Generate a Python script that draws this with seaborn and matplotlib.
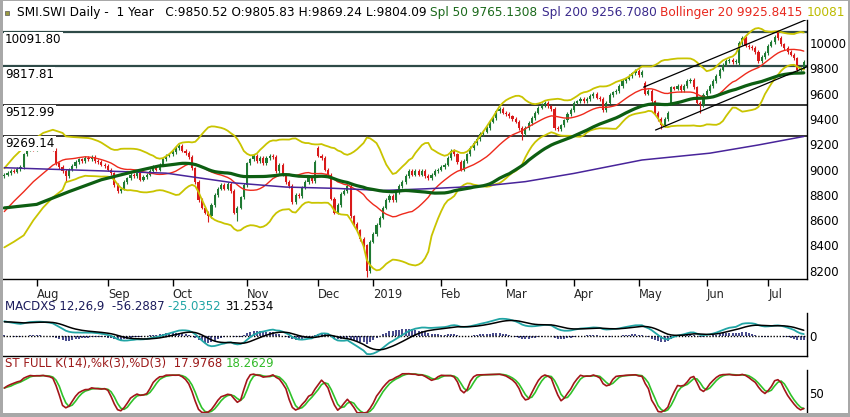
import numpy as np
import pandas as pd
import matplotlib
matplotlib.use("Agg")
import matplotlib.pyplot as plt
from matplotlib.patches import Rectangle
import seaborn as sns

sns.set_theme(style="white")
plt.rcParams['font.family'] = ['DejaVu Sans']

# ---------------- data ----------------
holidays = ["2018-08-01", "2018-12-24", "2018-12-25", "2018-12-26", "2018-12-31",
            "2019-01-01", "2019-01-02", "2019-04-19", "2019-04-22", "2019-05-01",
            "2019-05-30", "2019-06-10"]

close_2018_07 = [8960, 8975, 8990, 8985, 9005, 9020, 9120, 9160, 9175, 9165]
close_2018_08 = [9180, 9190, 9185, 9175, 9180, 9160, 9050, 9020, 8990, 8950, 9000,
                 9030, 9060, 9080, 9070, 9090, 9080, 9100, 9070, 9060, 9040, 9030]
close_2018_09 = [9000, 8970, 8880, 8830, 8850, 8900, 8930, 8960, 8950, 8970,
                 8920, 8940, 8960, 8990, 9020, 9000, 9040, 9080, 9110, 9120]
close_2018_10 = [9140, 9170, 9190, 9150, 9130, 9100, 9010, 8900, 8760, 8700, 8660,
                 8630, 8720, 8800, 8850, 8880, 8850, 8890, 8830, 8660, 8700, 8780, 8880]
close_2018_11 = [9050, 9080, 9110, 9070, 9090, 9050, 9090, 9110, 9100, 8990, 9040,
                 8960, 8900, 8870, 8740, 8800, 8790, 8860, 8900, 8930, 8910, 9060]
close_2018_12 = [9110, 9090, 9000, 8960, 8770, 8660, 8720, 8810, 8830, 8870,
                 8630, 8570, 8520, 8450, 8400, 8200, 8430]
close_2019_01 = [8490, 8560, 8620, 8700, 8760, 8790, 8760, 8820, 8870, 8900, 8950,
                 8990, 8960, 8990, 8960, 8990, 8950, 8930, 8960, 8990, 9000]
close_2019_02 = [9020, 9040, 9090, 9150, 9120, 9060, 9000, 9070, 9120, 9170,
                 9210, 9240, 9280, 9300, 9330, 9380, 9410, 9460, 9480, 9450]
close_2019_03 = [9440, 9420, 9400, 9380, 9330, 9280, 9330, 9370, 9410, 9450, 9490,
                 9510, 9530, 9500, 9480, 9330, 9320, 9350, 9390, 9440, 9470]
close_2019_04 = [9530, 9540, 9560, 9540, 9560, 9580, 9600, 9570, 9560, 9470,
                 9530, 9590, 9610, 9620, 9660, 9700, 9720, 9740, 9760, 9780]
close_2019_05 = [9750, 9770, 9600, 9620, 9540, 9450, 9400, 9350, 9400, 9450, 9650,
                 9640, 9660, 9630, 9660, 9700, 9710, 9650, 9530, 9510, 9590]
close_2019_06 = [9620, 9660, 9700, 9740, 9790, 9830, 9860, 9870, 9850, 9860,
                 10000, 10040, 9980, 9970, 9960, 9930, 9860, 9890, 9920]
close_2019_07 = [9980, 10010, 10050, 10040, 9990, 9960, 9930, 9910, 9880, 9790,
                 9800, 9850.52]

# opens that gap away from the previous close
open_gaps = {97: 9170, 198: 9685, 206: 9525, 227: 9845, 239: 10090, 247: 9805.83}
# long lower shadows
low_spikes = {19: 8900, 63: 8585, 72: 8590, 112: 8150, 160: 9235, 203: 9325, 215: 9445, 245: 9770}

# moving averages read where the chart's history is not in view
sma200_idx = [0, 30, 50, 71, 87, 102, 117, 130, 140, 151, 161, 176, 197, 218, 233, 247]
sma200_val = [9015, 8990, 8972, 8895, 8862, 8852, 8835, 8848, 8860, 8878, 8905, 8970,
              9076, 9130, 9195, 9262]
sma50_early_idx = [0, 10, 20, 30, 40, 48]
sma50_early_val = [8697, 8725, 8826, 8920, 8984, 9030]
bb_early_idx = [0, 3, 6, 9, 12, 15, 18]
bb_mid_early = [8668, 8750, 8825, 8905, 8970, 9035, 9075]
bb_up_early = [9010, 9100, 9175, 9235, 9290, 9315, 9290]
bb_lo_early = [8385, 8430, 8480, 8600, 8700, 8780, 8840]

# MACD state at the left edge
macd_start, signal_start = 125, 112

# trend channel (index, price)
chan_up_idx, chan_up_val = [197.5, 248.6], [9652, 10195]
chan_lo_idx, chan_lo_val = [201.2, 248.6], [9313, 9820]

levels = [10091.80, 9817.81, 9512.99, 9269.14]

# ---------------- build series ----------------
dates = pd.bdate_range("2018-07-18", "2019-07-16")
dates = dates[~dates.isin(pd.to_datetime(holidays))]
close = np.array(close_2018_07 + close_2018_08 + close_2018_09 + close_2018_10 +
                 close_2018_11 + close_2018_12 + close_2019_01 + close_2019_02 +
                 close_2019_03 + close_2019_04 + close_2019_05 + close_2019_06 +
                 close_2019_07, float)
n = len(close)
assert n == len(dates), (n, len(dates))
idx = np.arange(n)

opn = np.r_[close[0] - 10, close[:-1]]
for k, v in open_gaps.items():
    opn[k] = v
hi = np.maximum(opn, close) + 14
lo = np.minimum(opn, close) - 14
for k, v in low_spikes.items():
    lo[k] = v

cs = pd.Series(close)
sma50 = cs.rolling(50).mean().values
mid = cs.rolling(20).mean().values
sd = cs.rolling(20).std(ddof=0).values
up, dn = mid + 2 * sd, mid - 2 * sd

def ema(x, span, start):
    a = 2.0 / (span + 1)
    out = np.empty(len(x))
    prev = start
    for k, v in enumerate(x):
        prev = a * v + (1 - a) * prev
        out[k] = prev
    return out

e12 = ema(close, 12, close[0] - 30)
e26 = ema(close, 26, close[0] - 30 - macd_start)
macd = e12 - e26
signal = ema(macd, 9, signal_start)
hist = macd - signal

hs, ls = pd.Series(hi), pd.Series(lo)
hh = hs.rolling(14, min_periods=1).max()
ll = ls.rolling(14, min_periods=1).min()
rawk = (cs - ll) / (hh - ll) * 100
slowk = rawk.rolling(3, min_periods=1).mean()
slowd = slowk.rolling(3, min_periods=1).mean()

# ---------------- figure ----------------
W, H = 850, 417
fig = plt.figure(figsize=(W / 100, H / 100), dpi=100)
fig.patch.set_facecolor('white')

def rect(x0, y0, x1, y1):
    return [x0 / W, 1 - y1 / H, (x1 - x0) / W, (y1 - y0) / H]

ax = fig.add_axes(rect(3, 20, 806.7, 279))
axm = fig.add_axes(rect(3, 313, 806.7, 356))
axs = fig.add_axes(rect(3, 370, 806.7, 414))
XL = (-0.4, 247.9)
for a in (ax, axm, axs):
    a.set_facecolor('none')
    a.set_xlim(*XL)
    for s in ('top', 'left'):
        a.spines[s].set_visible(False)
    a.spines['right'].set_color('black')
    a.spines['right'].set_linewidth(1.0)
    a.spines['bottom'].set_color('black')
    a.spines['bottom'].set_linewidth(1.0)
    a.yaxis.tick_right()
    a.tick_params(axis='y', length=0, pad=2, labelsize=8.5, colors='black')
axs.spines['bottom'].set_visible(False)

# ---- price panel ----
ax.set_ylim(8135, 10183)
for lv, col, lw in zip(levels, ['#2e4a48', '#2e4a48', 'black', 'black'], [1.6, 1.6, 1.1, 1.1]):
    ax.axhline(lv, color=col, lw=lw, zorder=2)

upc = close >= opn
ccol = np.where(upc, '#1f7a33', '#d91a1a')
ax.vlines(idx, lo, hi, colors=ccol, lw=0.8, zorder=3)
body_lo = np.minimum(opn, close)
body_h = np.maximum(np.abs(close - opn), 6)
ax.bar(idx, body_h, bottom=body_lo, width=0.66, color=ccol, linewidth=0, zorder=3)

def line(a, xs, ys, color, lw, z=4):
    sns.lineplot(x=np.asarray(xs, float), y=np.asarray(ys, float), ax=a, color=color,
                 lw=lw, legend=False, estimator=None, sort=False, zorder=z)

sel = idx >= 19
line(ax, bb_early_idx + list(idx[sel]), bb_up_early + list(up[sel]), '#c9c400', 1.3)
line(ax, bb_early_idx + list(idx[sel]), bb_lo_early + list(dn[sel]), '#c9c400', 1.3)
line(ax, bb_early_idx + list(idx[sel]), bb_mid_early + list(mid[sel]), '#ee2a1c', 1.0)
line(ax, sma200_idx, sma200_val, '#48249a', 1.1)
sel50 = idx >= 49
line(ax, sma50_early_idx + list(idx[sel50]), sma50_early_val + list(sma50[sel50]), '#0d5e12', 2.3, 5)
line(ax, chan_up_idx, chan_up_val, 'black', 0.9, 5)
line(ax, chan_lo_idx, chan_lo_val, 'black', 0.9, 5)

for lv in levels:
    ax.annotate(f"{lv:.2f}", xy=(0, lv), xycoords=('axes fraction', 'data'),
                xytext=(1.5, -1.2), textcoords='offset points', ha='left', va='top',
                fontsize=8.6, color='black', zorder=8,
                bbox=dict(fc='white', ec='none', pad=0.8))

ax.set_yticks(range(8200, 10001, 200))
ax.set_yticklabels([str(v) for v in range(8200, 10001, 200)])
ax.set_ylabel('')
ax.set_xlabel('')

m = dates.to_period('M')
first = [k for k in range(1, n) if m[k] != m[k - 1]]
labels = [str(dates[k].year) if dates[k].month == 1 else dates[k].strftime('%b') for k in first]
ax.set_xticks(first)
ax.set_xticklabels(labels)
ax.tick_params(axis='x', direction='out', length=5, width=1, color='black',
               pad=1.5, labelsize=8.3, bottom=True)
for t in ax.get_xticklabels():
    t.set_horizontalalignment('left')

# ---- MACD panel ----
axm.set_ylim(-160, 184)
axm.vlines(idx, 0, hist, colors='#262a78', lw=1.2, zorder=2)
axm.axhline(0, color='black', lw=1.0, ls=(0, (1, 1.2)), zorder=3)
line(axm, idx, macd, '#21a5a5', 1.3)
line(axm, idx, signal, 'black', 1.1)
axm.set_yticks([0])
axm.set_yticklabels(['0'])
axm.tick_params(axis='x', bottom=False, labelbottom=False)
axm.set_ylabel('')

# ---- Stochastic panel ----
axs.set_ylim(-0.7, 107.4)
line(axs, idx, slowd, '#2fc22a', 1.2)
line(axs, idx, slowk, '#a3161a', 1.2)
axs.set_yticks([50])
axs.set_yticklabels(['50'])
axs.tick_params(axis='x', bottom=False, labelbottom=False)
axs.set_ylabel('')

# ---- header texts ----
def chain(x_px, y_px, parts, fs):
    prev = fig.text(x_px / W, 1 - y_px / H, parts[0][0], color=parts[0][1],
                    fontsize=fs, ha='left', va='bottom')
    for s, c in parts[1:]:
        prev = ax.annotate(s, xy=(1, 0), xycoords=prev, ha='left', va='bottom',
                           fontsize=fs, color=c, annotation_clip=False)

chain(17, 19, [("SMI.SWI Daily -  1 Year   C:9850.52 O:9805.83 H:9869.24 L:9804.09 ", 'black'),
               ("Spl 50 9765.1308 ", '#1c6a1c'),
               ("Spl 200 9256.7080 ", '#3a2a8c'),
               ("Bollinger 20 9925.8415 ", '#e8281e'),
               ("10081", '#bdbb00')], 8.75)
chain(5, 313, [("MACDXS 12,26,9  -56.2887 ", '#1c1c5c'),
               ("-25.0352 ", '#21a5a5'),
               ("31.2534", 'black')], 8.5)
chain(5, 370, [("ST FULL K(14),%k(3),%D(3)  17.9768 ", '#9c1a1a'),
               ("18.2629", '#33bb2a')], 8.5)

fig.patches.append(Rectangle((5 / W, 1 - 15 / H), 4 / W, 4 / H, transform=fig.transFigure,
                             fc='#9a9a40', ec='#555', lw=0.5))

# window frame
for r in [(0, 0, 3 / W, 1), (0, 0, 1, 4 / H), (0, 1 - 1 / H, 1, 1 / H), (1 - 2 / W, 0, 2 / W, 1)]:
    fig.patches.append(Rectangle(r[:2], r[2], r[3], transform=fig.transFigure,
                                 fc='#a8a8a8', ec='none', zorder=10))

fig.savefig("out.png", dpi=100, facecolor='white')
